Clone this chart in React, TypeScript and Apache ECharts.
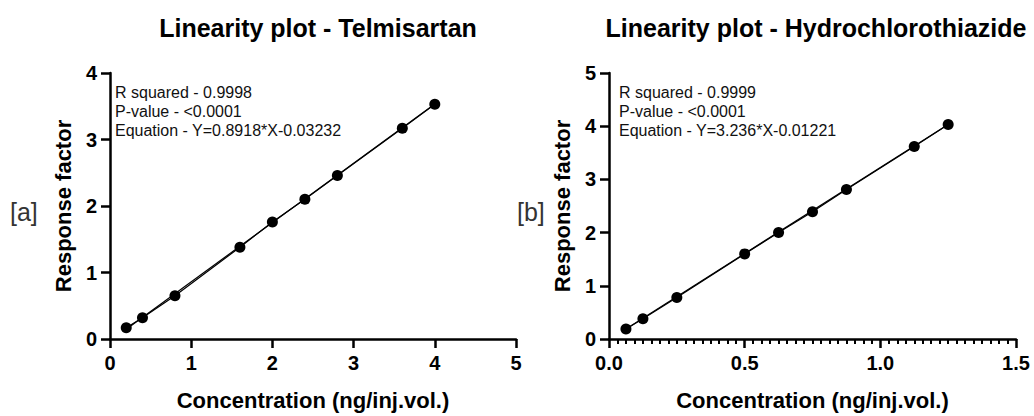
import React, { useEffect, useRef } from "react";
import * as echarts from "echarts";

const telX = [0.2, 0.4, 0.8, 1.6, 2.0, 2.4, 2.8, 3.6, 4.0];
const telY = [0.17, 0.32, 0.65, 1.38, 1.76, 2.1, 2.46, 3.17, 3.53];
const hctX = [0.0625, 0.125, 0.25, 0.5, 0.625, 0.75, 0.875, 1.125, 1.25];
const hctY = [0.19, 0.38, 0.78, 1.6, 2.0, 2.39, 2.81, 3.62, 4.03];
const telFit = { slope: 0.8918, intercept: -0.03232 };
const hctFit = { slope: 3.236, intercept: -0.01221 };
const titles = ["Linearity plot - Telmisartan", "Linearity plot - Hydrochlorothiazide"];
const annotTel = ["R squared - 0.9998", "P-value - <0.0001", "Equation - Y=0.8918*X-0.03232"];
const annotHct = ["R squared - 0.9999", "P-value - <0.0001", "Equation - Y=3.236*X-0.01221"];
const panelTags = ["[a]", "[b]"];
const xName = "Concentration (ng/inj.vol.)";
const yName = "Response factor";

const FONT = "'Liberation Sans', Arial, Helvetica, sans-serif";

function fitLine(xs: number[], fit: { slope: number; intercept: number }) {
  const a = Math.min(...xs);
  const b = Math.max(...xs);
  return [
    [a, fit.slope * a + fit.intercept],
    [b, fit.slope * b + fit.intercept],
  ];
}

export default function App() {
  const ref = useRef<HTMLDivElement>(null);
  useEffect(() => {
    if (!ref.current) return;
    const chart = echarts.init(ref.current, undefined, { renderer: "svg" });
    const mkAxisLine = () => ({ show: true, onZero: false, lineStyle: { color: "#000", width: 2.5 } });
    const mkTick = () => ({ show: true, inside: false, length: 9, lineStyle: { color: "#000", width: 2.5 } });
    const labelStyle = () => ({ color: "#000", fontWeight: "bold" as const, fontSize: 20, fontFamily: FONT });
    const nameStyle = () => ({ color: "#000", fontWeight: "bold" as const, fontSize: 22, fontFamily: FONT });
    const xBase = (idx: number, max: number, interval: number, minor: boolean, fmt?: (v: number) => string) => {
      const ax: any = {
        type: "value",
        gridIndex: idx,
        min: 0,
        max,
        interval,
        name: xName,
        nameLocation: "middle",
        nameGap: 50,
        nameTextStyle: nameStyle(),
        axisLine: mkAxisLine(),
        axisTick: mkTick(),
        minorTick: minor
          ? { show: true, splitNumber: 16, length: 5, lineStyle: { color: "#000", width: 2 } }
          : { show: false },
        splitLine: { show: false },
        minorSplitLine: { show: false },
        axisLabel: { ...labelStyle(), margin: 14 },
      };
      if (fmt) ax.axisLabel.formatter = fmt;
      return ax;
    };
    const yBase = (idx: number, max: number) => ({
      type: "value",
      gridIndex: idx,
      min: 0,
      max,
      interval: 1,
      name: yName,
      nameLocation: "middle",
      nameGap: 36,
      nameTextStyle: nameStyle(),
      axisLine: mkAxisLine(),
      axisTick: mkTick(),
      splitLine: { show: false },
      axisLabel: { ...labelStyle(), margin: 13 },
    });
    const points = (xs: number[], ys: number[], idx: number) => ({
      type: "line",
      xAxisIndex: idx,
      yAxisIndex: idx,
      data: xs.map((x, i) => [x, ys[i]]),
      symbol: "circle",
      symbolSize: 11,
      itemStyle: { color: "#000" },
      lineStyle: { color: "#000", width: 1.2 },
      z: 3,
    });
    const fit = (xs: number[], f: { slope: number; intercept: number }, idx: number) => ({
      type: "line",
      xAxisIndex: idx,
      yAxisIndex: idx,
      data: fitLine(xs, f),
      symbol: "none",
      lineStyle: { color: "#000", width: 1.2 },
      z: 2,
    });
    const annot = (x: number, lines: string[]) => ({
      type: "text",
      left: x,
      top: 83,
      style: {
        text: lines.join("\n"),
        fill: "#111",
        fontSize: 16,
        lineHeight: 19,
        fontFamily: FONT,
      },
    });
    const titleStyle = { color: "#000", fontWeight: "bold", fontSize: 25, fontFamily: FONT };
    chart.setOption({
      animation: false,
      backgroundColor: "#fff",
      title: [
        { text: titles[0], left: 313, top: 10, textAlign: "center", textStyle: titleStyle },
        { text: titles[1], left: 811, top: 10, textAlign: "center", textStyle: titleStyle },
      ],
      grid: [
        { left: 110, top: 73, width: 406, height: 270 },
        { left: 609, top: 73, width: 407, height: 270 },
      ],
      xAxis: [
        xBase(0, 5, 1, false),
        xBase(1, 1.5, 0.5, true, (v: number) => v.toFixed(1)),
      ],
      yAxis: [yBase(0, 4), yBase(1, 5)],
      series: [
        points(telX, telY, 0),
        fit(telX, telFit, 0),
        points(hctX, hctY, 1),
        fit(hctX, hctFit, 1),
      ],
      graphic: [
        annot(115, annotTel),
        annot(619, annotHct),
        {
          type: "text",
          left: 10,
          top: 199,
          style: { text: panelTags[0], fill: "#333", fontSize: 25, fontFamily: FONT },
        },
        {
          type: "text",
          left: 517,
          top: 199,
          style: { text: panelTags[1], fill: "#333", fontSize: 25, fontFamily: FONT },
        },
      ],
    });
    return () => chart.dispose();
  }, []);
  return (
    <div
      ref={ref}
      style={{ position: "fixed", left: 0, top: 0, width: 1034, height: 416, background: "#fff" }}
    />
  );
}
